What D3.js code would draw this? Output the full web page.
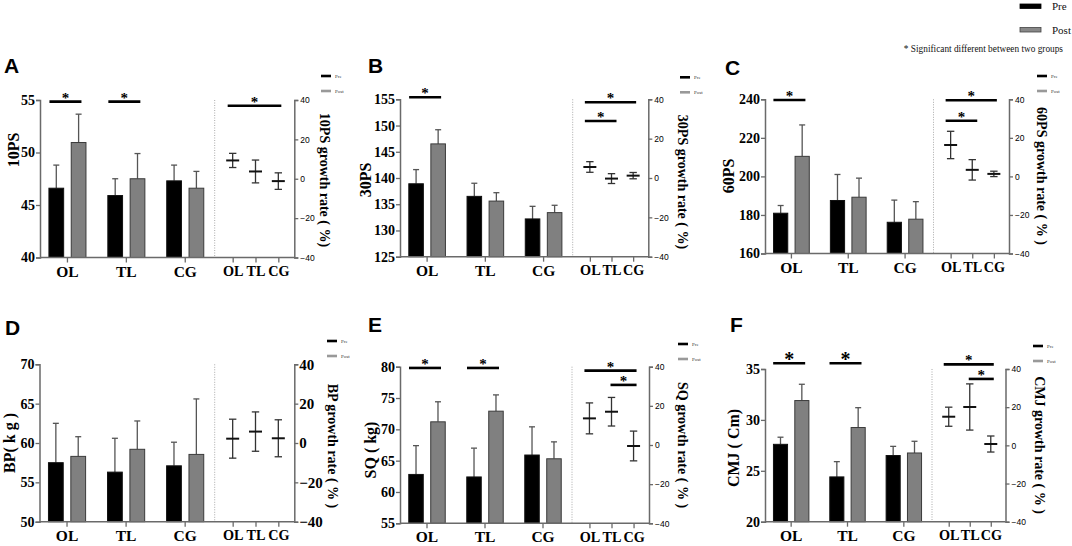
<!DOCTYPE html>
<html>
<head>
<meta charset="utf-8">
<script src="https://cdn.jsdelivr.net/npm/d3@7"></script>
<style>
  body { margin: 0; background: #fff; }
  svg { display: block; }
</style>
</head>
<body>
<div id="chart"></div>
<script>
// groups and phases shared by all six panels
const groups = ["OL", "TL", "CG"];
const phases = ["Pre", "Post"];
const growthTicks = [-40, -20, 0, 20, 40];

// 10PS
const ps10Ticks = [40, 45, 50, 55];
const ps10Pre = [46.6, 45.9, 47.3];
const ps10PreSd = [2.2, 1.6, 1.5];
const ps10Post = [50.95, 47.5, 46.6];
const ps10PostSd = [2.7, 2.4, 1.6];
const ps10Growth = [9.3, 3.7, -1.2];
const ps10GrowthSd = [3.6, 5.8, 4.2];
const ps10Sig = [["bar", "OL", "OL", 54.85], ["bar", "TL", "TL", 54.85], ["growth", "OL", "CG", 37.1]];

// 30PS
const ps30Ticks = [125, 130, 135, 140, 145, 150, 155];
const ps30Pre = [138.9, 136.5, 132.2];
const ps30PreSd = [2.7, 2.5, 2.4];
const ps30Post = [146.5, 135.6, 133.4];
const ps30PostSd = [2.7, 1.6, 1.4];
const ps30Growth = [5.6, -0.3, 1.2];
const ps30GrowthSd = [2.7, 2.5, 1.6];
const ps30Sig = [["bar", "OL", "OL", 155.4], ["growth", "OL", "CG", 38.5], ["growth", "OL", "TL", 29]];

// 60PS
const ps60Ticks = [160, 180, 200, 220, 240];
const ps60Pre = [180.9, 187.5, 176.2];
const ps60PreSd = [4.0, 13.5, 11.5];
const ps60Post = [210.4, 189.2, 177.8];
const ps60PostSd = [16.3, 9.9, 9.1];
const ps60Growth = [16.3, 3.4, 1.3];
const ps60GrowthSd = [7.1, 5.3, 1.4];
const ps60Sig = [["bar", "OL", "OL", 239.6], ["growth", "OL", "CG", 39.5], ["growth", "OL", "TL", 28.9]];

// BP
const bpTicks = [50, 55, 60, 65, 70];
const bpPre = [57.5, 56.3, 57.1];
const bpPreSd = [5.0, 4.3, 3.0];
const bpPost = [58.3, 59.2, 58.55];
const bpPostSd = [2.5, 3.6, 7.05];
const bpGrowth = [2.2, 5.8, 2.4];
const bpGrowthSd = [9.9, 10.0, 9.4];
const bpSig = [];

// SQ
const sqTicks = [55, 60, 65, 70, 75, 80];
const sqPre = [62.8, 62.4, 65.9];
const sqPreSd = [4.6, 4.6, 4.5];
const sqPost = [71.2, 72.9, 65.3];
const sqPostSd = [3.2, 2.6, 2.7];
const sqGrowth = [13.6, 17.0, -0.5];
const sqGrowthSd = [7.9, 7.3, 7.6];
const sqSig = [["bar", "OL", "OL", 79.8], ["bar", "TL", "TL", 79.8], ["growth", "OL", "CG", 38], ["growth", "TL", "CG", 30.7]];

// CMJ
const cmjTicks = [20, 25, 30, 35];
const cmjPre = [27.6, 24.4, 26.5];
const cmjPreSd = [0.7, 1.5, 0.9];
const cmjPost = [31.9, 29.25, 26.75];
const cmjPostSd = [1.6, 1.95, 1.15];
const cmjGrowth = [15.0, 20.1, 0.7];
const cmjGrowthSd = [5.0, 12.1, 4.2];
const cmjSig = [["bar", "OL", "OL", 35.56], ["bar", "TL", "TL", 35.56], ["growth", "OL", "CG", 42.4], ["growth", "TL", "CG", 34.8]];

const yLabels = ["10PS", "30PS", "60PS", "BP( k g )", "SQ ( kg)", "CMJ ( Cm)"];
const growthLabels = ["10PS growth rate ( %)", "30PS growth rate ( %)", "60PS growth rate (  %  )",
  "BP growth rate ( % )", "SQ growth rate ( % )", "CMJ growth rate ( % )"];
const panelLetters = ["A", "B", "C", "D", "E", "F"];

const panelData = [
  { ticks: ps10Ticks, pre: ps10Pre, preSd: ps10PreSd, post: ps10Post, postSd: ps10PostSd, growth: ps10Growth, growthSd: ps10GrowthSd, sig: ps10Sig },
  { ticks: ps30Ticks, pre: ps30Pre, preSd: ps30PreSd, post: ps30Post, postSd: ps30PostSd, growth: ps30Growth, growthSd: ps30GrowthSd, sig: ps30Sig },
  { ticks: ps60Ticks, pre: ps60Pre, preSd: ps60PreSd, post: ps60Post, postSd: ps60PostSd, growth: ps60Growth, growthSd: ps60GrowthSd, sig: ps60Sig },
  { ticks: bpTicks, pre: bpPre, preSd: bpPreSd, post: bpPost, postSd: bpPostSd, growth: bpGrowth, growthSd: bpGrowthSd, sig: bpSig },
  { ticks: sqTicks, pre: sqPre, preSd: sqPreSd, post: sqPost, postSd: sqPostSd, growth: sqGrowth, growthSd: sqGrowthSd, sig: sqSig },
  { ticks: cmjTicks, pre: cmjPre, preSd: cmjPreSd, post: cmjPost, postSd: cmjPostSd, growth: cmjGrowth, growthSd: cmjGrowthSd, sig: cmjSig }
];

// where each panel sits on the page
const layout = [
  { letter: [4, 73], ax: 40, div: 214.7, rx: 294.3, top: 100, bot: 257.5, yLab: [13, 150], gLab: [325, 180], leg: [321, 76] },
  { letter: [368, 72.7], ax: 400, div: 572.7, rx: 648.3, top: 99.3, bot: 256.7, yLab: [365, 180], gLab: [683, 182], leg: [680, 77.3] },
  { letter: [725, 75], ax: 765, div: 933.5, rx: 1009, top: 99.3, bot: 253.5, yLab: [728, 176], gLab: [1041.7, 176], leg: [1037, 76] },
  { letter: [5, 335], ax: 39.5, div: 214.7, rx: 294.3, top: 364.3, bot: 521.7, yLab: [9, 443], gLab: [333, 446], leg: [327, 341], serifRight: true },
  { letter: [368, 331.7], ax: 400, div: 572, rx: 649, top: 366.7, bot: 523.3, yLab: [370, 450], gLab: [683, 445], leg: [678, 344] },
  { letter: [730, 331.7], ax: 765, div: 932, rx: 1005.5, top: 369, bot: 521.7, yLab: [733, 448], gLab: [1040, 445], leg: [1033, 346], bigStar: true }
];

const serif = "'Liberation Serif', 'Times New Roman', serif";
const sans = "'Liberation Sans', Arial, sans-serif";
const axisColor = "#6a6a6a";
const preColor = "#000";
const postColor = "#808080";

const svg = d3.select("#chart").append("svg")
  .attr("width", 1072)
  .attr("height", 546);

function styleAxis(g, font, size, weight) {
  g.selectAll(".domain").style("stroke", axisColor).style("stroke-width", 1.5);
  g.selectAll(".tick line").style("stroke", axisColor).style("stroke-width", 1.3);
  g.selectAll(".tick text")
    .style("font-family", font)
    .style("font-size", size + "px")
    .style("font-weight", weight)
    .style("fill", "#000");
}

function drawPanel(d, L, i) {
  const g = svg.append("g");

  const yL = d3.scaleLinear().domain(d3.extent(d.ticks)).range([L.bot, L.top]);
  const yR = d3.scaleLinear().domain([-40, 40]).range([L.bot, L.top]);
  const x0 = d3.scaleBand().domain(groups).range([L.ax - 2, L.div]);
  const x1 = d3.scaleBand().domain(phases).range([0, x0.bandwidth()]).paddingInner(0.34).paddingOuter(0.49);
  const xg = d3.scalePoint().domain(groups).range([L.div + 2, L.rx]).padding(0.7);

  // dotted divider between the two sections
  g.append("line")
    .attr("x1", L.div).attr("x2", L.div)
    .attr("y1", L.top).attr("y2", L.bot)
    .style("stroke", "#aaa")
    .style("stroke-width", 1)
    .style("stroke-dasharray", "1,1.5");

  // bars
  const rows = [];
  groups.forEach((grp, k) => {
    rows.push({ grp: grp, phase: "Pre", mean: d.pre[k], sd: d.preSd[k] });
    rows.push({ grp: grp, phase: "Post", mean: d.post[k], sd: d.postSd[k] });
  });
  const base = yL.domain()[0];
  const cx = r => x0(r.grp) + x1(r.phase) + x1.bandwidth() / 2;

  g.selectAll(".err").data(rows).join("line")
    .attr("x1", cx).attr("x2", cx)
    .attr("y1", r => yL(r.mean))
    .attr("y2", r => yL(r.mean + r.sd))
    .style("stroke", "#555").style("stroke-width", 1.3);
  g.selectAll(".cap").data(rows).join("line")
    .attr("x1", r => cx(r) - 3)
    .attr("x2", r => cx(r) + 3)
    .attr("y1", r => yL(r.mean + r.sd))
    .attr("y2", r => yL(r.mean + r.sd))
    .style("stroke", "#555").style("stroke-width", 1.3);

  g.selectAll(".bar").data(rows).join("rect")
    .attr("x", r => x0(r.grp) + x1(r.phase))
    .attr("y", r => yL(r.mean))
    .attr("width", x1.bandwidth())
    .attr("height", r => yL(base) - yL(r.mean))
    .style("fill", r => r.phase === "Pre" ? preColor : postColor)
    .style("stroke", r => r.phase === "Pre" ? "#111" : "#3a3a3a")
    .style("stroke-width", 1);

  // growth rate mean +- sd
  const gRows = groups.map((grp, k) => ({ grp: grp, mean: d.growth[k], sd: d.growthSd[k] }));
  const gc = g.selectAll(".growth").data(gRows).join("g");
  gc.append("line")
    .attr("x1", r => xg(r.grp)).attr("x2", r => xg(r.grp))
    .attr("y1", r => yR(r.mean - r.sd)).attr("y2", r => yR(r.mean + r.sd))
    .style("stroke", "#333").style("stroke-width", 1.3);
  [-1, 1].forEach(s => {
    gc.append("line")
      .attr("x1", r => xg(r.grp) - 3.7).attr("x2", r => xg(r.grp) + 3.7)
      .attr("y1", r => yR(r.mean + s * r.sd)).attr("y2", r => yR(r.mean + s * r.sd))
      .style("stroke", "#333").style("stroke-width", 1.3);
  });
  gc.append("line")
    .attr("x1", r => xg(r.grp) - 6.5).attr("x2", r => xg(r.grp) + 6.5)
    .attr("y1", r => yR(r.mean)).attr("y2", r => yR(r.mean))
    .style("stroke", "#111").style("stroke-width", 2);

  // axes
  const left = g.append("g").attr("transform", `translate(${L.ax},0)`)
    .call(d3.axisLeft(yL).tickValues(d.ticks).tickSizeOuter(0).tickSize(4).tickPadding(1).tickFormat(d3.format("d")));
  styleAxis(left, serif, 14, "bold");

  const right = g.append("g").attr("transform", `translate(${L.rx},0)`)
    .call(d3.axisRight(yR).tickValues(growthTicks).tickSizeOuter(0).tickSize(4).tickPadding(L.serifRight ? 1 : 2));
  if (L.serifRight) styleAxis(right, serif, 15, "bold");
  else styleAxis(right, sans, 8.5, "normal");

  const bottom = g.append("g").attr("transform", `translate(0,${L.bot})`)
    .call(d3.axisBottom(x0).tickSize(5).tickPadding(3));
  bottom.select(".domain").remove();
  styleAxis(bottom, serif, 15.5, "bold");
  const bottom2 = g.append("g").attr("transform", `translate(0,${L.bot})`)
    .call(d3.axisBottom(xg).tickSize(5).tickPadding(3.5));
  bottom2.select(".domain").remove();
  styleAxis(bottom2, serif, 14.2, "bold");

  g.append("line")
    .attr("x1", L.ax).attr("x2", L.rx)
    .attr("y1", L.bot).attr("y2", L.bot)
    .style("stroke", axisColor).style("stroke-width", 1.5);

  // significance brackets
  d.sig.forEach(([sec, a, b, v]) => {
    let xa, xb, y;
    if (sec === "bar") {
      xa = x0(a) + x0.bandwidth() / 2 - 18;
      xb = x0(b) + x0.bandwidth() / 2 + 14;
      y = yL(v);
    } else {
      xa = xg(a) - (a === "OL" ? 5 : 1);
      xb = xg(b) + (b === "TL" ? 5 : 3);
      y = yR(v);
    }
    g.append("line")
      .attr("x1", xa).attr("x2", xb)
      .attr("y1", y).attr("y2", y)
      .style("stroke", "#000")
      .style("stroke-width", 2.6);
    const big = L.bigStar && sec === "bar";
    g.append("text")
      .attr("x", (xa + xb) / 2)
      .attr("y", y + (big ? 3 : 1))
      .attr("text-anchor", "middle")
      .text("*")
      .style("fill", "#000")
      .style("font-family", serif)
      .style("font-weight", "bold")
      .style("font-size", big ? "20px" : "15px");
  });

  // labels
  g.append("text")
    .attr("transform", `translate(${L.yLab[0]},${L.yLab[1]}) rotate(-90)`)
    .attr("text-anchor", "middle")
    .attr("dy", "0.35em")
    .text(yLabels[i])
    .style("fill", "#000")
    .style("font-family", serif).style("font-weight", "bold").style("font-size", "16px");

  g.append("text")
    .attr("transform", `translate(${L.gLab[0]},${L.gLab[1]}) rotate(90)`)
    .attr("text-anchor", "middle")
    .attr("dy", "0.35em")
    .text(growthLabels[i])
    .style("fill", "#000")
    .style("font-family", serif).style("font-weight", "bold").style("font-size", "14px");

  g.append("text")
    .attr("x", L.letter[0]).attr("y", L.letter[1])
    .text(panelLetters[i])
    .style("fill", "#000")
    .style("font-family", sans).style("font-weight", "bold").style("font-size", "21px");

  // tiny legend
  phases.forEach((p, k) => {
    g.append("rect")
      .attr("x", L.leg[0]).attr("y", L.leg[1] + k * 15 - 1.3)
      .attr("width", 10).attr("height", 2.6)
      .style("fill", p === "Pre" ? "#000" : "#999");
    g.append("text")
      .attr("x", L.leg[0] + 14).attr("y", L.leg[1] + k * 15 + 1.5)
      .text(p)
      .style("font-family", serif).style("font-size", "5px").style("fill", "#333");
  });
}

panelData.forEach((d, i) => drawPanel(d, layout[i], i));

// main legend, top right
const legend = svg.append("g");
phases.forEach((p, k) => {
  legend.append("rect")
    .attr("x", 1020).attr("y", 4 + k * 23.5)
    .attr("width", 21).attr("height", 4.5)
    .style("fill", p === "Pre" ? "#000" : "#888")
    .style("stroke", p === "Pre" ? "#000" : "#444")
    .style("stroke-width", 0.8);
  legend.append("text")
    .attr("x", 1052).attr("y", 10 + k * 23.5)
    .text(p)
    .style("font-family", serif).style("font-size", "11px").style("fill", "#111");
});
legend.append("text")
  .attr("x", 1063).attr("y", 51.5)
  .attr("text-anchor", "end")
  .text("* Significant different between two groups")
  .style("font-family", serif).style("font-size", "9.3px").style("fill", "#111");
</script>
</body>
</html>
